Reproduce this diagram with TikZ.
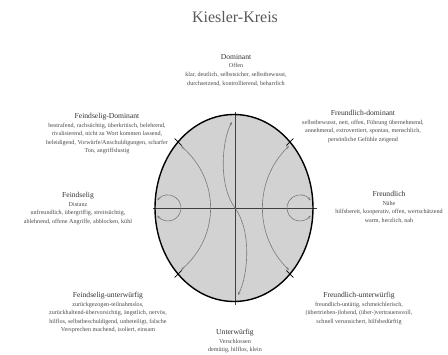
\documentclass[tikz,border=0pt]{standalone}
\usepackage{fontspec}
\setmainfont{Liberation Serif}
\usetikzlibrary{arrows.meta}
\definecolor{txtgray}{HTML}{4A4A4A}
\definecolor{headgray}{HTML}{333333}
\definecolor{fillgray}{HTML}{D2D2D2}
\definecolor{arcgray}{HTML}{7A7A7A}
\newcommand{\hd}[1]{{\fontsize{7.6}{8.6}\selectfont\color{headgray}#1}}
\begin{document}
\begin{tikzpicture}[x=1pt,y=-1pt,
  label block/.style={align=center, anchor=north, inner sep=0pt, text=txtgray,
    font=\fontsize{6.1}{8.6}\selectfont},
  axis line/.style={draw=black!75, line width=0.8pt},
  flow/.style={draw=arcgray, line width=0.6pt, {Stealth[length=3.2pt,width=2.6pt]}-{Stealth[length=3.2pt,width=2.6pt]}},
  tickmark/.style={draw=black, line width=0.8pt}]
\useasboundingbox[fill=white] (0,0) rectangle (448,355);
% title
\node[text=black!65, font=\fontsize{16}{18}\selectfont] (title) at (235,17) {Kiesler-Kreis};
% circle
\coordinate (C) at (234,208);
\fill[fillgray] (C) ellipse[x radius=79, y radius=93.5];
% axes
\coordinate (axL) at (153,208);
\coordinate (axR) at (317,208);
\coordinate (axT) at (235,112);
\coordinate (axB) at (235,305);
\draw[axis line] (axL) -- (axR);
\draw[axis line] (axT) -- (axB);
% curves
\coordinate (la) at (181,146);
\coordinate (lb) at (181,270);
\draw[flow] (la) .. controls (220,180) and (220,236) .. (lb);
\coordinate (ra) at (289,146);
\coordinate (rb) at (289,270);
\draw[flow] (ra) .. controls (254,180) and (254,236) .. (rb);
\coordinate (sa) at (232,122);
\coordinate (sm) at (235,208);
\coordinate (sb) at (238,295);
\draw[flow] (sa) .. controls (222,140) and (218,185) .. (sm) .. controls (252,231) and (248,276) .. (sb);
% loops
\coordinate (lla) at (157.4,200.5);
\draw[flow] (lla) arc[start angle=-145, end angle=145, radius=13];
\coordinate (rla) at (310.6,200.5);
\draw[flow] (rla) arc[start angle=-35, end angle=-325, radius=13];
% ellipse outline
\draw[line width=1.4pt] (C) ellipse[x radius=79, y radius=93.5];
% ticks
\foreach \px/\py/\dx/\dy in {178.1/142.0/1/1, 289.9/142.0/-1/1, 178.1/274.0/1/-1, 289.9/274.0/-1/-1}{
  \draw[tickmark] (\px-3.5*\dx,\py-3.5*\dy) -- (\px+3.5*\dx,\py+3.5*\dy);
}
% labels
\node[label block] (dom) at (236,54) {\hd{Dominant}\\Offen\\klar, deutlich, selbstsicher, selbstbewusst,\\durchsetzend, kontrollierend, beharrlich};
\node[label block] (fdom) at (107,113) {\hd{Feindselig-Dominant}\\bestrafend, rachsüchtig, überkritisch, belehrend,\\rivalisierend, nicht zu Wort kommen lassend,\\beleidigend, Vorwürfe/Anschuldigungen, scharfer\\Ton, angriffslustig};
\node[label block] (frdom) at (363,110) {\hd{Freundlich-dominant}\\selbstbewusst, nett, offen, Führung übernehmend,\\annehmend, extrovertiert, spontan, menschlich,\\persönliche Gefühle zeigend};
\node[label block] (feind) at (78,192) {\hd{Feindselig}\\Distanz\\unfreundlich, übergriffig, streitsüchtig,\\ablehnend, offene Angriffe, abblocken, kühl};
\node[label block] (freund) at (389,191) {\hd{Freundlich}\\Nähe\\hilfsbereit, kooperativ, offen, wertschätzend\\warm, herzlich, nah};
\node[label block] (fu) at (108,292) {\hd{Feindselig-unterwürfig}\\zurückgezogen-teilnahmslos,\\zurückhaltend-übervorsichtig, ängstlich, nervös,\\hilflos, selbstbeschuldigend, unbeteiligt, falsche\\Versprechen machend, isoliert, einsam};
\node[label block] (fru) at (359,292) {\hd{Freundlich-unterwürfig}\\freundlich-untätig, schmeichlerisch,\\(übertrieben-)lobend, (über-)vertrauensvoll,\\schnell verunsichert, hilfsbedürftig};
\node[label block] (unt) at (235,329) {\hd{Unterwürfig}\\Verschlossen\\demütig, hilflos, klein};
\end{tikzpicture}
\end{document}
